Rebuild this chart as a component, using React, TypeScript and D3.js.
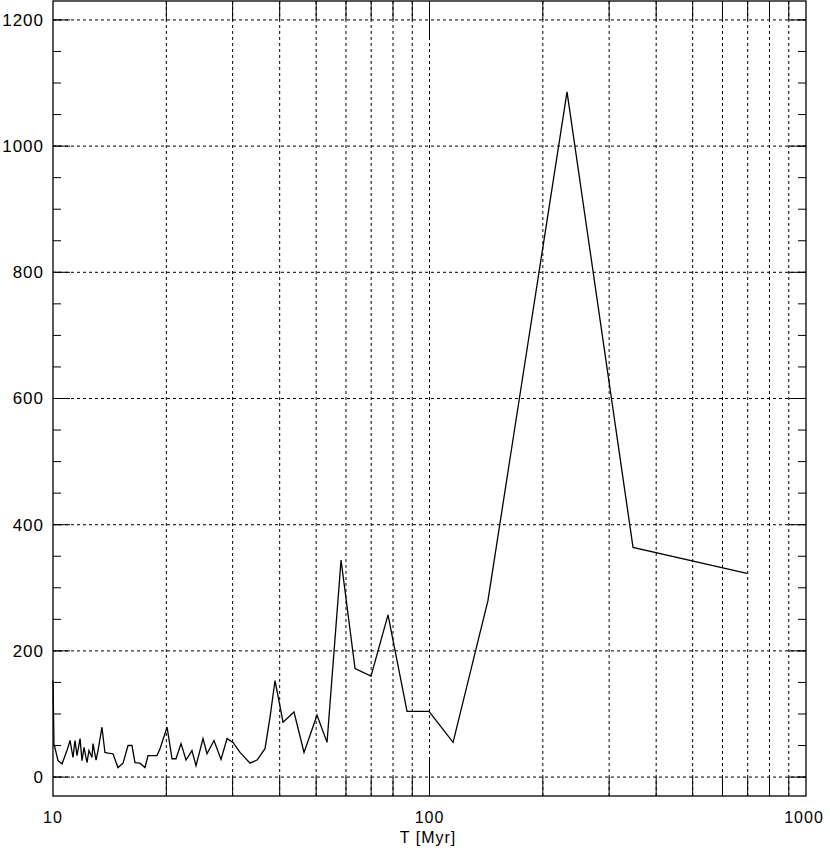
import React from "react";
import * as d3 from "d3";

const timeMyr = [
  10.0, 10.06, 10.31, 10.57, 10.89, 11.1, 11.3, 11.44, 11.58, 11.8, 11.94, 12.09, 12.31, 12.46,
  12.69, 12.77, 13.01, 13.17, 13.49, 13.74, 14.0, 14.43, 14.88, 15.35, 15.82, 16.21, 16.51,
  17.02, 17.55, 17.88, 18.89, 19.24, 20.09, 20.71, 21.22, 21.88, 22.56, 23.39, 23.98, 25.03,
  25.65, 26.77, 27.94, 28.99, 30.07, 31.39, 33.37, 34.83, 36.57, 37.71, 38.88, 40.83, 43.66,
  46.42, 50.26, 53.44, 58.22, 63.42, 69.93, 77.59, 87.17, 99.7, 115.5, 143.0, 231.9, 347.2, 697,
];
const values = [
  153, 53, 26, 21, 42, 58, 31, 58, 34, 61, 26, 47, 23, 42,
  31, 53, 27, 42, 79, 39, 38, 37, 15, 22, 50, 50, 23,
  22, 15, 34, 34, 45, 79, 29, 29, 53, 27, 42, 18, 61,
  37, 58, 28, 61, 55, 39, 22, 27, 45, 95, 153, 87, 103,
  39, 98, 55, 344, 172, 160, 257, 104, 104, 55, 280, 1086, 364, 323,
];

const xTickLabels = ["10", "100", "1000"];
const xTickValues = [10, 100, 1000];
const yTickValues = [0, 200, 400, 600, 800, 1000, 1200];
const yMinorValues = d3.range(-0, 1201, 50);
const xTitle = "T [Myr]";

const W = 830;
const H = 854;
const L = 53, R = 806, T = 1, B = 796;

export default function App() {
  const x = d3.scaleLog().domain([10, 1000]).range([L, R]);
  const y = d3.scaleLinear().domain([-30, 1230]).range([B, T]);

  const xGrid: number[] = [];
  for (let d = 10; d < 1000; d *= 10) {
    for (let k = 1; k < 10; k++) {
      const v = d * k;
      if (v > 10 && v < 1000) xGrid.push(v);
    }
  }
  const xMajorInner = [100];

  const line = d3
    .line<number>()
    .x((_, i) => x(timeMyr[i]))
    .y((d) => y(d));

  const font = "'Liberation Sans', Arial, sans-serif";
  const dash = "3,3";

  return (
    <svg
      width={W}
      height={H}
      style={{ position: "absolute", left: 0, top: 0, background: "#fff" }}
    >
      <rect x={0} y={0} width={W} height={H} fill="#fff" />
      {xGrid.map((v) => (
        <line
          key={"vg" + v}
          x1={x(v)}
          x2={x(v)}
          y1={T}
          y2={B}
          stroke="#000"
          strokeWidth={1}
          strokeDasharray={dash}
        />
      ))}
      {yTickValues.map((v) => (
        <line
          key={"hg" + v}
          x1={L}
          x2={R}
          y1={y(v)}
          y2={y(v)}
          stroke="#000"
          strokeWidth={1}
          strokeDasharray={dash}
        />
      ))}
      {xGrid.map((v) => (
        <g key={"xt" + v}>
          <line x1={x(v)} x2={x(v)} y1={B} y2={B - 19} stroke="#000" />
          <line x1={x(v)} x2={x(v)} y1={T} y2={T + 19} stroke="#000" />
        </g>
      ))}
      {xMajorInner.map((v) => (
        <g key={"xM" + v}>
          <line x1={x(v)} x2={x(v)} y1={B} y2={B - 38} stroke="#000" />
          <line x1={x(v)} x2={x(v)} y1={T} y2={T + 38} stroke="#000" />
        </g>
      ))}
      {yMinorValues.map((v) => (
        <g key={"ym" + v}>
          <line x1={L} x2={L + 8} y1={y(v)} y2={y(v)} stroke="#000" />
          <line x1={R} x2={R - 8} y1={y(v)} y2={y(v)} stroke="#000" />
        </g>
      ))}
      {yTickValues.map((v) => (
        <g key={"yM" + v}>
          <line x1={L} x2={L + 17} y1={y(v)} y2={y(v)} stroke="#000" />
          <line x1={R} x2={R - 17} y1={y(v)} y2={y(v)} stroke="#000" />
        </g>
      ))}
      <rect
        x={L}
        y={T}
        width={R - L}
        height={B - T}
        fill="none"
        stroke="#000"
        strokeWidth={1.3}
      />
      <path d={line(values) || ""} fill="none" stroke="#000" strokeWidth={1.3} />
      {yTickValues.map((v) => (
        <text
          key={"yl" + v}
          x={44}
          y={y(v)}
          dy="0.35em"
          textAnchor="end"
          fontFamily={font}
          fontSize={17}
          letterSpacing={1}
          fill="#000"
        >
          {v}
        </text>
      ))}
      {xTickValues.map((v, i) => (
        <text
          key={"xl" + v}
          x={x(v) + (v === 1000 ? -2 : 0)}
          y={823}
          textAnchor="middle"
          fontFamily={font}
          fontSize={16}
          letterSpacing={1}
          fill="#000"
        >
          {xTickLabels[i]}
        </text>
      ))}
      <text
        x={428}
        y={843}
        textAnchor="middle"
        fontFamily={font}
        fontSize={16}
        letterSpacing={1}
        fill="#000"
      >
        {xTitle}
      </text>
    </svg>
  );
}
